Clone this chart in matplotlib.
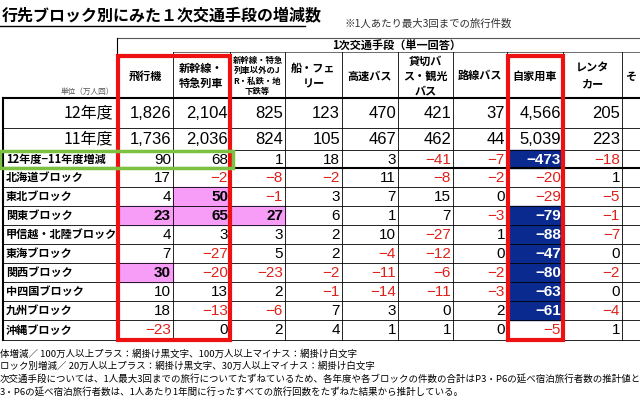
import matplotlib
matplotlib.use("Agg")
import matplotlib.pyplot as plt
from matplotlib.patches import Rectangle

plt.rcParams["font.family"] = "Noto Sans CJK JP"

title = "行先ブロック別にみた１次交通手段の増減数"
note = "※1人あたり最大3回までの旅行件数"
group_header = "1次交通手段（単一回答）"
unit = "単位（万人回）"
columns = ["飛行機", "新幹線・\n特急列車", "新幹線・特急\n列車以外のJ\nR・私鉄・地\n下鉄等", "船・フェ\nリー",
           "高速バス", "貸切バ\nス・観光\nバス", "路線バス", "自家用車", "レンタ\nカー", "そ"]
rows = ["12年度", "11年度", "12年度−11年度増減", "北海道ブロック", "東北ブロック", "関東ブロック",
        "甲信越・北陸ブロック", "東海ブロック", "関西ブロック", "中四国ブロック", "九州ブロック", "沖縄ブロック"]
plane = [1826, 1736, 90, 17, 4, 23, 4, 7, 30, 10, 18, -23]
shinkansen = [2104, 2036, 68, -2, 50, 65, 3, -27, -20, 13, -13, 0]
other_rail = [825, 824, 1, -8, -1, 27, 3, 5, -23, 2, -6, 2]
ship = [123, 105, 18, -2, 3, 6, 2, 2, -2, -1, 7, 4]
hwy_bus = [470, 467, 3, 11, 7, 1, 10, -4, -11, -14, 3, 1]
charter_bus = [421, 462, -41, -8, 15, 7, -27, -12, -6, -11, 0, 1]
route_bus = [37, 44, -7, -2, 0, -3, 1, 0, -2, -3, 2, 0]
car = [4566, 5039, -473, -20, -29, -79, -88, -47, -80, -63, -61, -5]
rental = [205, 223, -18, 1, -5, -1, -7, 0, -2, 0, -4, 1]
footnotes = [
    "体増減／ 100万人以上プラス：網掛け黒文字、100万人以上マイナス：網掛け白文字",
    "ロック別増減／ 20万人以上プラス：網掛け黒文字、30万人以上マイナス：網掛け白文字",
    "次交通手段については、1人最大3回までの旅行についてたずねているため、各年度や各ブロックの件数の合計はP3・P6の延べ宿泊旅行者数の推計値と異な",
    "3・P6の延べ宿泊旅行者数は、1人あたり1年間に行ったすべての旅行回数をたずねた結果から推計している。",
]
series = [plane, shinkansen, other_rail, ship, hwy_bus, charter_bus, route_bus, car, rental]

fig = plt.figure(figsize=(6.4, 4.0), dpi=100)
ax = fig.add_axes([0, 0, 1, 1])
ax.set_xlim(0, 640); ax.set_ylim(400, 0); ax.axis("off")

xe = [0, 117, 173, 230, 285, 342, 398, 453, 507, 563, 622, 680]
ye = [98, 128, 150, 168] + [168 + 19 * i for i in range(1, 10)]
ye[-1] = 340
PINK, BLUE, RED = "#f79cf7", "#0b2a8f", "#e0201a"
NUMFONT = "Liberation Sans"

ax.text(2, 16, title, fontsize=11.5, fontweight="bold", va="center", ha="left")
ax.plot([0, 305], [26, 26], color="k", lw=1)
ax.text(345, 24, note, fontsize=7.5, color="#333", va="center")
ax.plot([117, 640], [38, 38], color="#555", lw=0.8)
ax.text(332, 46, group_header, fontsize=8, fontweight="bold", va="center")
ax.plot([117, 117], [38, 340], color="k", lw=0.8)
ax.plot([173, 640], [52, 52], color="#555", lw=0.6)
for i, c in enumerate(columns):
    x0, x1 = xe[i + 1], xe[i + 2]
    multi = c.count("\n") >= 3
    ax.text((x0 + x1) / 2 if i < 9 else x0 + 4, 76, c, fontsize=6 if multi else 8,
            fontweight="bold", ha="center" if i < 9 else "left", va="center", linespacing=1.2)
ax.text(114, 92, unit, fontsize=5.5, color="#555", ha="right", va="center")

for y in ye:
    lw = 1.5 if y in (98, 168) else 0.6
    ax.plot([3 if y >= 98 else 0, 640], [y, y], color="k", lw=lw)
ax.plot([3, 3], [98, 340], color="k", lw=1.5)
for x in xe[2:11]:
    ax.plot([x, x], [52, 340], color="k", lw=0.6)

for r, name in enumerate(rows):
    y0, y1 = ye[r], ye[r + 1]
    yc = (y0 + y1) / 2
    if r < 2:
        ax.text(113, yc, name, fontsize=11.5, ha="right", va="center")
    else:
        ax.text(6, yc, name, fontsize=8, fontweight="bold", ha="left", va="center")
    for c, s in enumerate(series):
        v = s[r]
        x0, x1 = xe[c + 1], xe[c + 2]
        bg, col, bold = None, ("k" if v >= 0 else RED), False
        if r == 2:
            if v >= 100: bg, bold = PINK, True
            elif v <= -100: bg, col, bold = BLUE, "white", True
        elif r >= 3:
            if v >= 20: bg, bold = PINK, True
            elif v <= -30: bg, col, bold = BLUE, "white", True
        if bg:
            ax.add_patch(Rectangle((x0, y0), x1 - x0, y1 - y0, color=bg, zorder=0))
        txt = f"{v:,}".replace("-", "−")
        ax.text(x1 - 2, yc + 0.5, txt, fontsize=12 if r < 2 else 11, ha="right", va="center",
                color=col, fontfamily=NUMFONT, fontweight="bold" if bold else "normal")

ax.add_patch(Rectangle((118, 56), 112, 284, fill=False, ec="#ee1111", lw=3, zorder=5))
ax.add_patch(Rectangle((508, 56), 55, 284, fill=False, ec="#ee1111", lw=3, zorder=5))
ax.add_patch(Rectangle((0, 151), 233, 17, fill=False, ec="#7dc142", lw=2.5, zorder=6))

for i, t in enumerate(footnotes):
    ax.text(0, 354 + i * 12.5, t, fontsize=6.8, va="center", ha="left")

fig.savefig("out.png", dpi=100)
